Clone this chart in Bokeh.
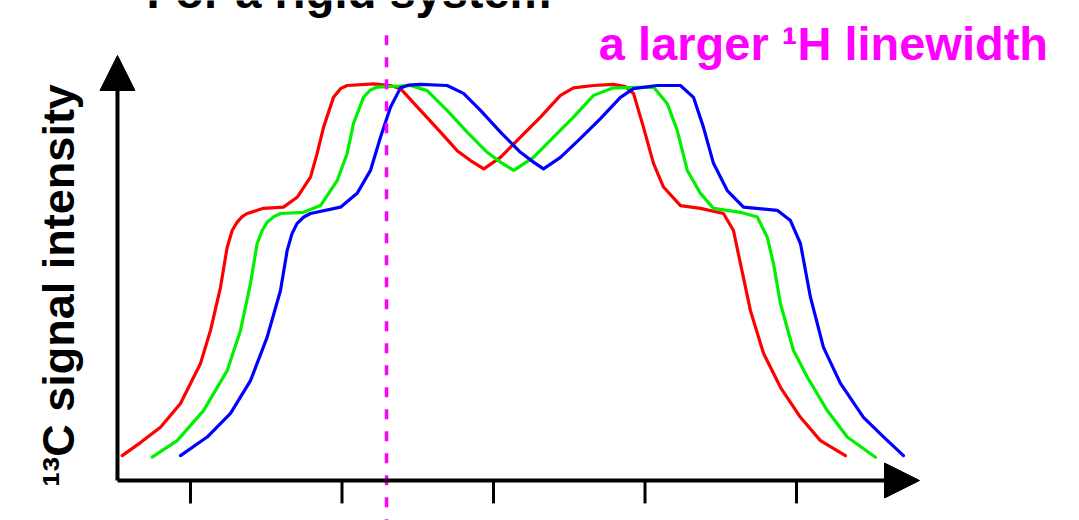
from bokeh.plotting import figure
from bokeh.models import Range1d, Arrow, NormalHead
from bokeh.core.properties import value
from bokeh.embed import file_html
from bokeh.resources import INLINE
import math

# ---------------- data (arbitrary units: x in tick units, y as normalised intensity) -------------
red_x = [0.549, 0.670, 0.802, 0.934, 1.066, 1.132, 1.198, 1.242, 1.275, 1.308, 1.341, 1.374, 1.482, 1.614,
         1.704, 1.792, 1.836, 1.878, 1.944, 1.990, 2.034, 2.208, 2.320, 2.386, 2.518, 2.650, 2.760,
         2.848, 2.936, 3.046, 3.178, 3.310, 3.442, 3.528, 3.660, 3.792, 3.871, 3.924, 3.990,
         4.056, 4.122, 4.234, 4.366, 4.518, 4.584, 4.630, 4.696, 4.782, 4.894, 5.026, 5.158, 5.323]
red_y = [0.063, 0.096, 0.135, 0.195, 0.296, 0.380, 0.489, 0.590, 0.633, 0.654, 0.668, 0.676, 0.689, 0.692,
         0.717, 0.768, 0.828, 0.894, 0.970, 0.992, 1.000, 1.004, 1.000, 0.992, 0.937, 0.882, 0.835,
         0.810, 0.789, 0.818, 0.869, 0.920, 0.975, 0.994, 1.000, 1.003, 0.997, 0.980, 0.894,
         0.803, 0.743, 0.696, 0.689, 0.676, 0.633, 0.549, 0.430, 0.322, 0.236, 0.160, 0.101, 0.063]

green_x = [0.747, 0.912, 1.086, 1.242, 1.330, 1.396, 1.440, 1.473, 1.506, 1.550, 1.594, 1.746, 1.858, 1.968,
           2.034, 2.076, 2.142, 2.185, 2.232, 2.452, 2.562, 2.694, 2.826, 2.958, 3.046, 3.134, 3.264,
           3.396, 3.528, 3.660, 3.792, 4.056, 4.147, 4.213, 4.279, 4.366, 4.452, 4.630, 4.741,
           4.807, 4.848, 4.894, 4.980, 5.071, 5.203, 5.335, 5.521]
green_y = [0.059, 0.101, 0.177, 0.278, 0.380, 0.499, 0.600, 0.633, 0.654, 0.668, 0.676, 0.679, 0.696, 0.759,
           0.828, 0.904, 0.970, 0.988, 0.996, 1.000, 0.987, 0.937, 0.882, 0.831, 0.806, 0.785, 0.818,
           0.869, 0.920, 0.975, 0.994, 0.996, 0.954, 0.886, 0.785, 0.727, 0.689, 0.679, 0.667,
           0.616, 0.549, 0.448, 0.329, 0.262, 0.177, 0.110, 0.059]

blue_x = [0.934, 1.110, 1.264, 1.396, 1.506, 1.594, 1.638, 1.670, 1.704, 1.748, 1.792, 1.990, 2.100, 2.188,
          2.254, 2.320, 2.386, 2.440, 2.518, 2.694, 2.802, 2.914, 3.046, 3.178, 3.264, 3.330, 3.442,
          3.574, 3.706, 3.838, 3.924, 4.080, 4.234, 4.320, 4.386, 4.452, 4.543, 4.650, 4.873,
          4.960, 5.026, 5.092, 5.178, 5.290, 5.442, 5.576, 5.706]
blue_y = [0.063, 0.110, 0.170, 0.253, 0.363, 0.481, 0.582, 0.625, 0.651, 0.667, 0.676, 0.692, 0.727, 0.785,
          0.869, 0.945, 0.994, 1.001, 1.003, 1.000, 0.980, 0.937, 0.882, 0.831, 0.806, 0.789, 0.818,
          0.866, 0.916, 0.970, 0.992, 1.000, 1.000, 0.970, 0.894, 0.803, 0.734, 0.692, 0.684,
          0.658, 0.600, 0.464, 0.337, 0.246, 0.160, 0.110, 0.063]

tick_positions = [1, 2, 3, 4, 5]
marker_x = 2.294          # position of the dashed magenta guide line

title_text = "For a rigid system"
note_text = "a larger \u00b9H linewidth"
ylabel_text = "\u00b9\u00b3C signal intensity"

# ---------------- layout ------------------------------------------------------------------------
W, H = 1079, 520
PX_X = 151.5      # pixels per x unit
PX_Y = 395.0      # pixels per y unit
X0_PX = 190       # pixel column of x = 1
Y0_PX = 480       # pixel row of y = 0

x_lo = 1 - X0_PX / PX_X
x_hi = 1 + (W - X0_PX) / PX_X
y_lo = -(H - Y0_PX) / PX_Y
y_hi = Y0_PX / PX_Y

p = figure(width=W, height=H, x_range=Range1d(x_lo, x_hi), y_range=Range1d(y_lo, y_hi),
           x_axis_location=None, y_axis_location=None, toolbar_location=None,
           output_backend="svg", min_border=0)
p.grid.visible = False
p.outline_line_color = None
p.background_fill_color = "white"
p.border_fill_color = "white"

axis_x = 0.518
FONT = value("Liberation Sans")

# spectra
for xs, ys, col in [(red_x, red_y, "#ff0000"), (green_x, green_y, "#00f000"), (blue_x, blue_y, "#0000ff")]:
    p.line(xs, ys, line_color=col, line_width=3.2, line_join="round", line_cap="round")

# axes with arrow heads
p.add_layout(Arrow(end=NormalHead(size=35, fill_color="black", line_color="black"),
                   x_start=axis_x, y_start=0, x_end=5.812, y_end=0,
                   line_width=4, line_color="black"))
p.add_layout(Arrow(end=NormalHead(size=35, fill_color="black", line_color="black"),
                   x_start=axis_x, y_start=0, x_end=axis_x, y_end=1.076,
                   line_width=4, line_color="black"))

# ticks
p.segment(x0=tick_positions, y0=[0] * len(tick_positions), x1=tick_positions,
          y1=[-0.058] * len(tick_positions), line_color="black", line_width=3)

# dashed magenta guide
p.segment(x0=[marker_x], y0=[1.127], x1=[marker_x], y1=[y_lo - 0.05],
          line_color="#ff00ff", line_width=3.5, line_dash="10 12")

# texts
p.text(x=[2.046], y=[1.238], text=[title_text], text_font=FONT, text_font_style="bold",
       text_font_size="47px", text_color="black", text_align="center", text_baseline="alphabetic")
p.text(x=[5.178], y=[1.106], text=[note_text], text_font=FONT, text_font_style="bold",
       text_font_size="47px", text_color="#ff00ff", text_align="center", text_baseline="alphabetic")
p.text(x=[0.129], y=[0.494], text=[ylabel_text], text_font=FONT, text_font_style="bold",
       text_font_size="45px", text_color="black", text_align="center", text_baseline="alphabetic",
       angle=math.pi / 2)

open("out.html", "w").write(file_html(p, INLINE))
